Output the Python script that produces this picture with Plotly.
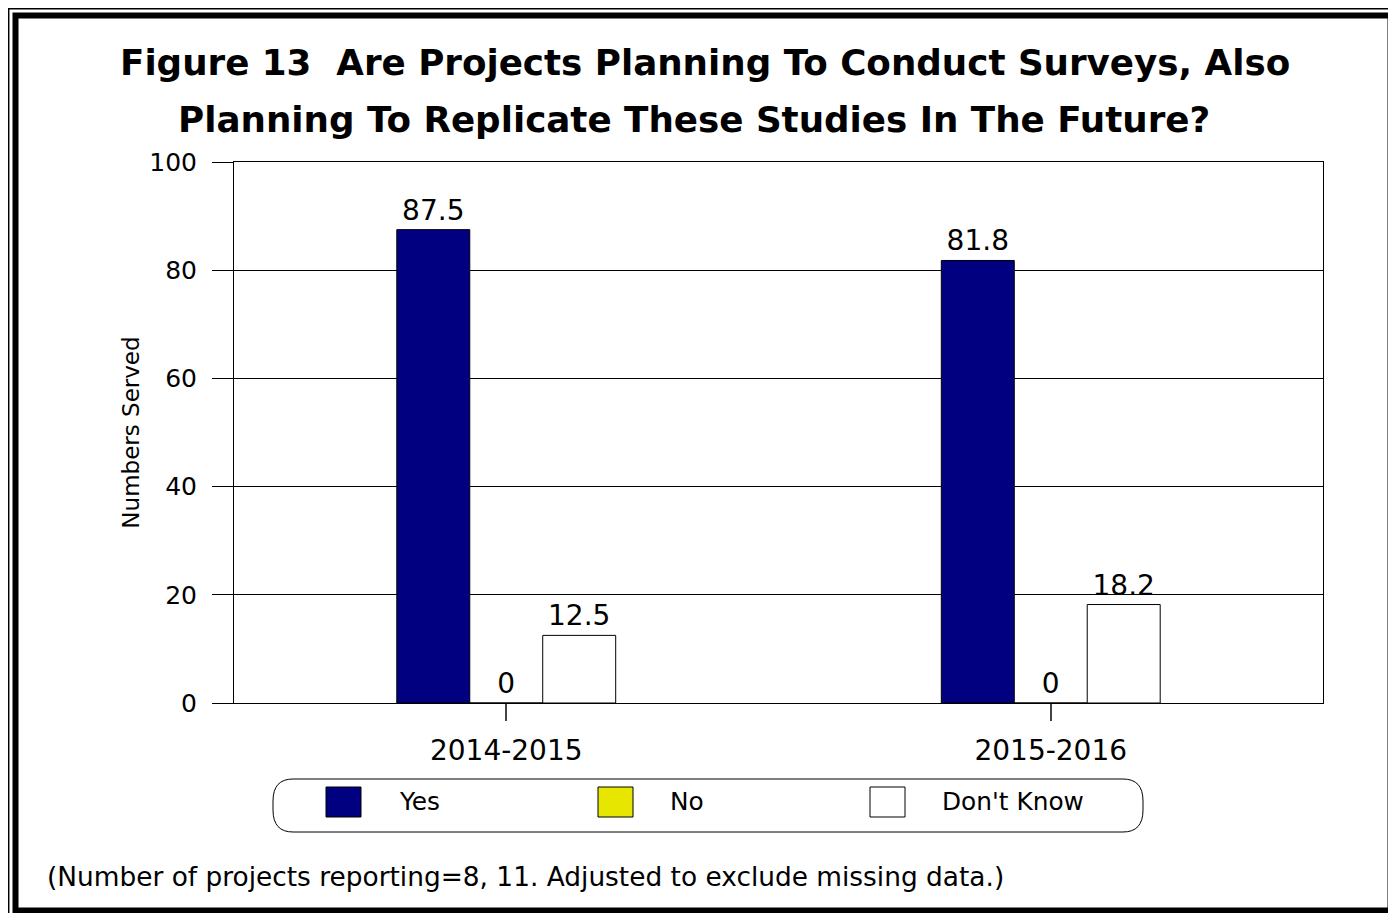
import plotly.graph_objects as go

categories = ["2014-2015", "2015-2016"]
series_names = ["Yes", "No", "Don't Know"]
yes_values = [87.5, 81.8]
no_values = [0, 0]
dontknow_values = [12.5, 18.2]
series_colors = ["#000080", "#E6E600", "#FFFFFF"]
y_ticks = [0, 20, 40, 60, 80, 100]

title_line1 = "Figure 13  Are Projects Planning To Conduct Surveys, Also"
title_line2 = "Planning To Replicate These Studies In The Future?"
y_title = "Numbers Served"
footnote = "(Number of projects reporting=8, 11. Adjusted to exclude missing data.)"

# page has an 8px body margin; work in screenshot pixel coordinates
OFF = 8
SW, SH = 1396, 913
W, H = SW - OFF, SH - OFF
L, R, T, B = 234, 1323, 162, 703


def px(X):
    return (X - L) / (R - L)


def py(Y):
    return (B - Y) / (B - T)


FONT = "DejaVu Sans, Verdana, sans-serif"

fig = go.Figure()
for name, vals, col in zip(series_names, [yes_values, no_values, dontknow_values], series_colors):
    fig.add_trace(go.Bar(
        x=categories, y=vals, name=name,
        marker=dict(color=col, line=dict(color="#000000", width=1)),
        text=[f"{v:g}" for v in vals], textposition="outside",
        textfont=dict(family=FONT, size=28, color="#000000"),
        cliponaxis=False, showlegend=False,
    ))

shapes = []
annotations = []

# Title
annotations.append(dict(text="<b>" + title_line1 + "</b>", x=px(705), y=py(63), xref="paper", yref="paper",
                        showarrow=False, font=dict(family=FONT, size=35.7, color="#000000"),
                        xanchor="center", yanchor="middle"))
annotations.append(dict(text="<b>" + title_line2 + "</b>", x=px(694), y=py(120), xref="paper", yref="paper",
                        showarrow=False, font=dict(family=FONT, size=35.7, color="#000000"),
                        xanchor="center", yanchor="middle"))

# Footnote
annotations.append(dict(text=footnote, x=px(45), y=py(876), xref="paper", yref="paper",
                        showarrow=False, font=dict(family=FONT, size=26.4, color="#000000"),
                        xanchor="left", yanchor="middle"))

# Legend box (rounded rectangle)
lx0, lx1, ly0, ly1 = 273, 1143, 779, 832
rx, ry = 20, 22
path = (f"M {px(lx0 + rx)},{py(ly0)} L {px(lx1 - rx)},{py(ly0)} "
        f"Q {px(lx1)},{py(ly0)} {px(lx1)},{py(ly0 + ry)} "
        f"L {px(lx1)},{py(ly1 - ry)} Q {px(lx1)},{py(ly1)} {px(lx1 - rx)},{py(ly1)} "
        f"L {px(lx0 + rx)},{py(ly1)} Q {px(lx0)},{py(ly1)} {px(lx0)},{py(ly1 - ry)} "
        f"L {px(lx0)},{py(ly0 + ry)} Q {px(lx0)},{py(ly0)} {px(lx0 + rx)},{py(ly0)} Z")
shapes.append(dict(type="path", path=path, xref="paper", yref="paper",
                   line=dict(color="#000000", width=1), fillcolor="rgba(0,0,0,0)"))

swatch_x = [326, 598, 870]
text_x = [397, 668, 940]
for name, col, sx, tx in zip(series_names, series_colors, swatch_x, text_x):
    shapes.append(dict(type="rect", xref="paper", yref="paper",
                       x0=px(sx), x1=px(sx + 35), y0=py(817), y1=py(787),
                       fillcolor=col, line=dict(color="#000000", width=1)))
    annotations.append(dict(text=name, x=px(tx), y=py(801), xref="paper", yref="paper",
                            showarrow=False, font=dict(family=FONT, size=24.8, color="#000000"),
                            xanchor="left", yanchor="middle"))

# Outer frames
shapes.append(dict(type="rect", xref="paper", yref="paper",
                   x0=px(8.7), x1=px(1395.5), y0=py(930), y1=py(8.7),
                   line=dict(color="#000000", width=1.5), fillcolor="rgba(0,0,0,0)"))
shapes.append(dict(type="rect", xref="paper", yref="paper",
                   x0=px(15.5), x1=px(1390.5), y0=py(910.5), y1=py(15.5),
                   line=dict(color="#000000", width=6), fillcolor="rgba(0,0,0,0)"))

fig.update_layout(
    width=W, height=H,
    margin=dict(l=L - OFF, r=SW - R, t=T - OFF, b=SH - B, pad=0),
    paper_bgcolor="#FFFFFF", plot_bgcolor="#FFFFFF",
    barmode="group", bargap=0.598, bargroupgap=0,
    font=dict(family=FONT, color="#000000"),
    shapes=shapes, annotations=annotations,
    showlegend=False,
)
fig.update_xaxes(
    showline=True, mirror=True, linecolor="#000000", linewidth=1,
    ticks="outside", ticklen=17, tickcolor="#444444", tickwidth=2,
    tickfont=dict(family=FONT, size=28, color="#000000"),
    ticklabelstandoff=5, showgrid=False,
)
fig.update_yaxes(
    range=[0, 100], tickvals=y_ticks,
    showline=True, mirror=True, linecolor="#000000", linewidth=1,
    ticks="outside", ticklen=21, tickcolor="#000000", tickwidth=1,
    tickfont=dict(family=FONT, size=25, color="#000000"),
    ticklabelstandoff=10,
    showgrid=True, gridcolor="#000000", gridwidth=1,
    zeroline=False,
    title=dict(text=y_title, font=dict(family=FONT, size=23, color="#000000"), standoff=3),
)

fig.write_html("out.html")
